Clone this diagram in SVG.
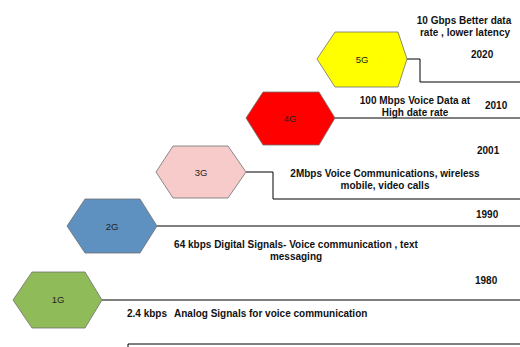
<svg xmlns="http://www.w3.org/2000/svg" width="520" height="347" viewBox="0 0 520 347">
<style>
.hex{stroke:#6e6e6e;stroke-width:0.8}
.lbl{font-family:"Liberation Sans",Arial,sans-serif;font-size:9.5px;fill:#222;text-anchor:middle;dominant-baseline:central}
.txt{font-family:"Liberation Sans",Arial,sans-serif;font-size:10px;font-weight:bold;fill:#111;dominant-baseline:central}
.conn{fill:none;stroke:#000;stroke-width:1}
</style>
<rect width="520" height="347" fill="#fff"/>
<g id="connectors">
<path class="conn" d="M102,300 H520"/>
<path class="conn" d="M157,226 H520"/>
<path class="conn" d="M246,172 H273 V199 H520"/>
<path class="conn" d="M335,118 H520"/>
<path class="conn" d="M407,59 H420 V82 H520"/>
<path class="conn" d="M128,347 V344 H520"/>
</g>
<g id="n1G">
<polygon class="hex" fill="#8fbc59" points="13,300 32,272 85,272 102,300 85,328 32,328"/>
<text class="lbl" x="58" y="299">1G</text>
<text class="txt" x="475" y="280">1980</text>
<text class="txt" x="127" y="313">2.4 kbps</text>
<text class="txt" x="174" y="313">Analog Signals for voice communication</text>
</g>
<g id="n2G">
<polygon class="hex" fill="#5f91c0" points="67,226 85,199 140,199 157,226 140,253 85,253"/>
<text class="lbl" x="112" y="226">2G</text>
<text class="txt" x="476" y="214">1990</text>
<text class="txt" text-anchor="middle" x="296" y="244">64 kbps Digital Signals- Voice communication , text</text>
<text class="txt" text-anchor="middle" x="296" y="256">messaging</text>
</g>
<g id="n3G">
<polygon class="hex" fill="#f8cbcb" points="156,172 173,146 228,146 246,172 228,198 173,198"/>
<text class="lbl" x="201" y="172">3G</text>
<text class="txt" x="477" y="150">2001</text>
<text class="txt" text-anchor="middle" x="385" y="173">2Mbps Voice Communications, wireless</text>
<text class="txt" text-anchor="middle" x="385" y="185">mobile, video calls</text>
</g>
<g id="n4G">
<polygon class="hex" fill="#ff0000" points="246,118 263,92 319,92 335,118 319,145 263,145"/>
<text class="lbl" x="290" y="118">4G</text>
<text class="txt" x="485" y="105">2010</text>
<text class="txt" text-anchor="middle" x="415" y="100">100 Mbps Voice Data at</text>
<text class="txt" text-anchor="middle" x="415" y="112">High date rate</text>
</g>
<g id="n5G">
<polygon class="hex" fill="#ffff00" points="317,59 335,32 398,32 407,59 398,87 335,87"/>
<text class="lbl" x="362" y="59">5G</text>
<text class="txt" x="471" y="54">2020</text>
<text class="txt" text-anchor="middle" x="464" y="20">10 Gbps Better data</text>
<text class="txt" text-anchor="middle" x="465" y="32">rate , lower latency</text>
</g>
</svg>
